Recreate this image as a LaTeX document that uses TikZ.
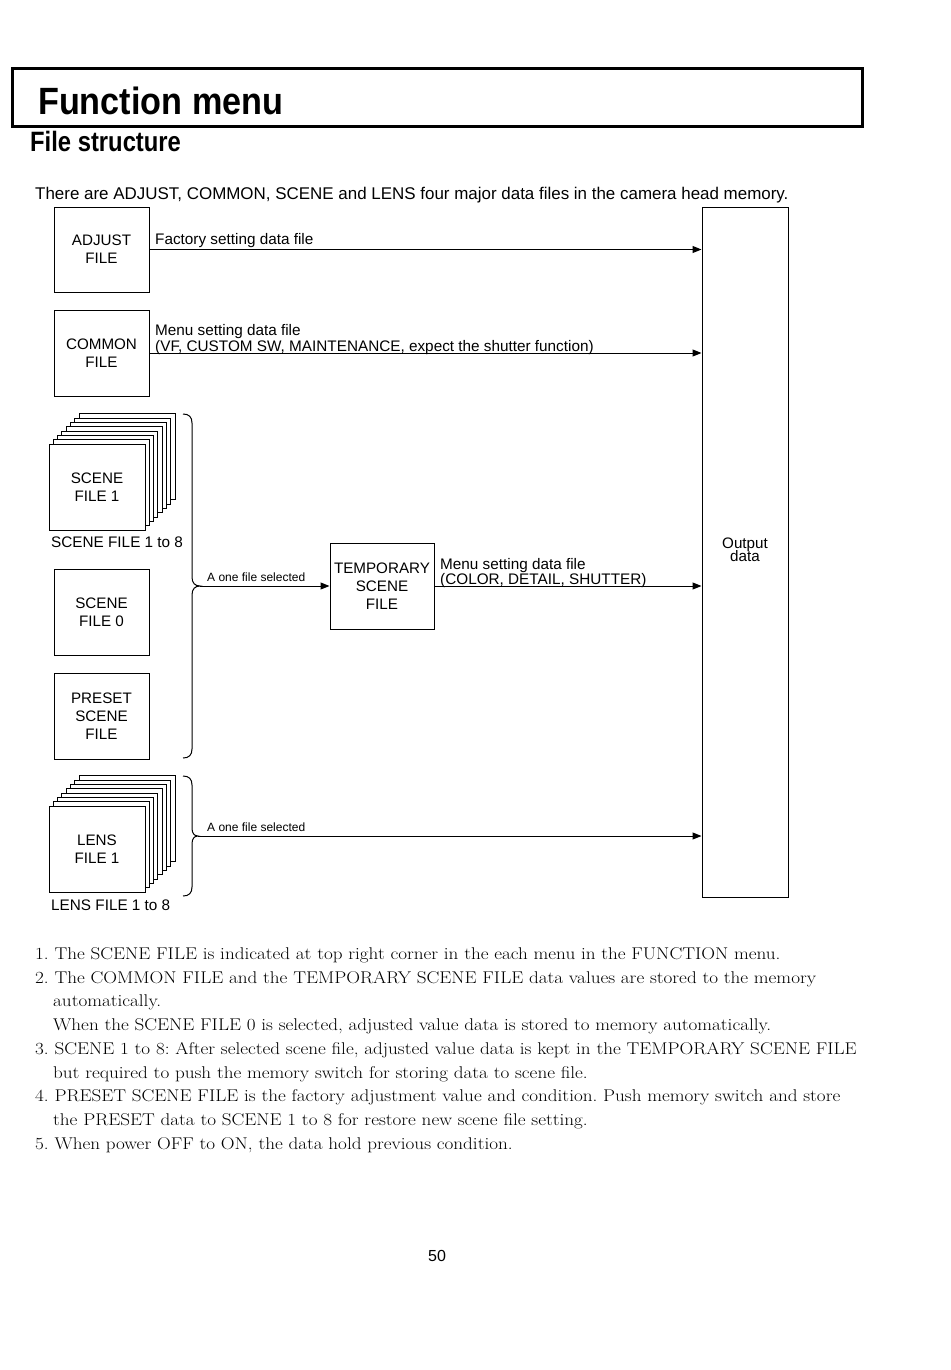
\documentclass[tikz,border=0pt]{standalone}
\usepackage{fontspec}
\newfontfamily\arial{Liberation Sans}
\usetikzlibrary{arrows.meta}
\newcommand\wideline[1]{\scalebox{1.125}[1]{#1}}
\frenchspacing
\begin{document}
\begin{tikzpicture}[x=1pt,y=-1pt,
 box/.style={draw,line width=1pt,fill=white,minimum width=95pt,minimum height=86pt,inner sep=0pt,align=center,font=\arial\fontsize{15.2}{18.2}\selectfont},
 lbl/.style={font=\arial\fontsize{15.3}{16}\selectfont,inner sep=0pt,anchor=base west},
 small/.style={font=\arial\fontsize{12}{14}\selectfont,inner sep=0pt,anchor=base west},
 body/.style={font=\fontsize{17}{20}\selectfont\frenchspacing,inner sep=0pt,anchor=base west},
 arr/.style={line width=1pt,-{Triangle[length=9pt,width=7pt]}},
 brace/.style={line width=1pt}]
\useasboundingbox[fill=white] (0,0) rectangle (950,1370);

% title
\node[draw,line width=3pt,minimum width=850pt,minimum height=58pt,inner sep=0pt] (titlebox) at (437,98) {};
\node[anchor=base west,inner sep=0pt] (title) at (38,114) {\scalebox{0.9}[1]{\arial\bfseries\fontsize{38}{40}\selectfont Function menu}};
\node[anchor=base west,inner sep=0pt] (sub) at (30,151) {\scalebox{0.85}[1]{\arial\bfseries\fontsize{28}{30}\selectfont File structure}};
\node[lbl,font=\arial\fontsize{16.95}{18}\selectfont] (intro) at (35,199) {There are ADJUST, COMMON, SCENE and LENS four major data files in the camera head memory.};

% boxes
\node[box,minimum height=85pt] (adjust) at (101.5,249.5) {ADJUST\\FILE};
\node[box] (common) at (101.5,353) {COMMON\\FILE};
\node[box] (scene0) at (101.5,612) {SCENE\\FILE 0};
\node[box] (preset) at (101.5,716) {PRESET\\SCENE\\FILE};
\node[box,minimum width=104pt] (temp) at (382,586) {TEMPORARY\\SCENE\\FILE};
\node[draw,line width=1pt,minimum width=86pt,minimum height=690pt,inner sep=0pt] (out) at (745,552) {};
\node[font=\arial\fontsize{15.2}{16}\selectfont,inner sep=0pt,anchor=base] (outa) at (745,548) {Output};
\node[font=\arial\fontsize{15.2}{16}\selectfont,inner sep=0pt,anchor=base] (outb) at (745,561) {data};

% scene stack
\foreach \i in {7,6,...,1}{
  \draw[line width=1pt,fill=white] (49+4.29*\i,444-4.29*\i) rectangle ++(96,86);
}
\node[box,minimum width=96pt] (scene1) at (97,487) {SCENE\\FILE 1};
\node[lbl] (scenelbl) at (51,547.5) {SCENE FILE 1 to 8};

% lens stack
\foreach \i in {7,6,...,1}{
  \draw[line width=1pt,fill=white] (49+4.29*\i,806-4.29*\i) rectangle ++(96,86);
}
\node[box,minimum width=96pt] (lens1) at (97,849) {LENS\\FILE 1};
\node[lbl] (lenslbl) at (51,910) {LENS FILE 1 to 8};

% braces
\coordinate (b1) at (200,586);
\draw[brace] (183,414) .. controls (189,414) and (192,417) .. (192,423) -- (192,577)
  .. controls (192,583) and (195,586) .. (b1)
  .. controls (195,586) and (192,589) .. (192,595) -- (192,749)
  .. controls (192,755) and (189,758) .. (183,758);
\coordinate (b2) at (198,836);
\draw[brace] (183,776) .. controls (189,776) and (192,779) .. (192,785) -- (192,828)
  .. controls (192,833) and (194,836) .. (b2)
  .. controls (194,836) and (192,839) .. (192,844) -- (192,887)
  .. controls (192,893) and (189,896) .. (183,896);

% arrows
\draw[arr] (adjust.east) -- (adjust.east -| out.west);
\draw[arr] (common.east) -- (common.east -| out.west);
\draw[arr] (b1) -- (temp.west);
\draw[arr] (temp.east) -- (temp.east -| out.west);
\draw[arr] (b2) -- (b2 -| out.west);

% labels
\node[lbl] (l1) at (155,244.5) {Factory setting data file};
\node[lbl] (l2a) at (155,335.5) {Menu setting data file};
\node[lbl] (l2b) at (155,351.3) {(VF, CUSTOM SW, MAINTENANCE, expect the shutter function)};
\node[small] (l3) at (207,581) {A one file selected};
\node[lbl] (l4a) at (440,569) {Menu setting data file};
\node[lbl] (l4b) at (440,584.5) {(COLOR, DETAIL, SHUTTER)};
\node[small] (l5) at (207,831) {A one file selected};

% notes
\node[body] (n1) at (35,959.5) {\wideline{1. The SCENE FILE is indicated at top right corner in the each menu in the FUNCTION menu.}};
\node[body] (n2) at (35,983.5) {\wideline{2. The COMMON FILE and the TEMPORARY SCENE FILE data values are stored to the memory}};
\node[body] (n2b) at (53,1006.5) {\wideline{automatically.}};
\node[body] (n2c) at (53,1030.5) {\wideline{When the SCENE FILE 0 is selected, adjusted value data is stored to memory automatically.}};
\node[body] (n3) at (35,1054.5) {\wideline{3. SCENE 1 to 8: After selected scene file, adjusted value data is kept in the TEMPORARY SCENE FILE}};
\node[body] (n3b) at (53,1078.5) {\wideline{but required to push the memory switch for storing data to scene file.}};
\node[body] (n4) at (35,1101.5) {\wideline{4. PRESET SCENE FILE is the factory adjustment value and condition. Push memory switch and store}};
\node[body] (n4b) at (53,1125.5) {\wideline{the PRESET data to SCENE 1 to 8 for restore new scene file setting.}};
\node[body] (n5) at (35,1149.5) {\wideline{5. When power OFF to ON, the data hold previous condition.}};

\node[font=\arial\fontsize{16}{18}\selectfont,inner sep=0pt,anchor=base] (page) at (437,1261) {50};
\end{tikzpicture}
\end{document}
